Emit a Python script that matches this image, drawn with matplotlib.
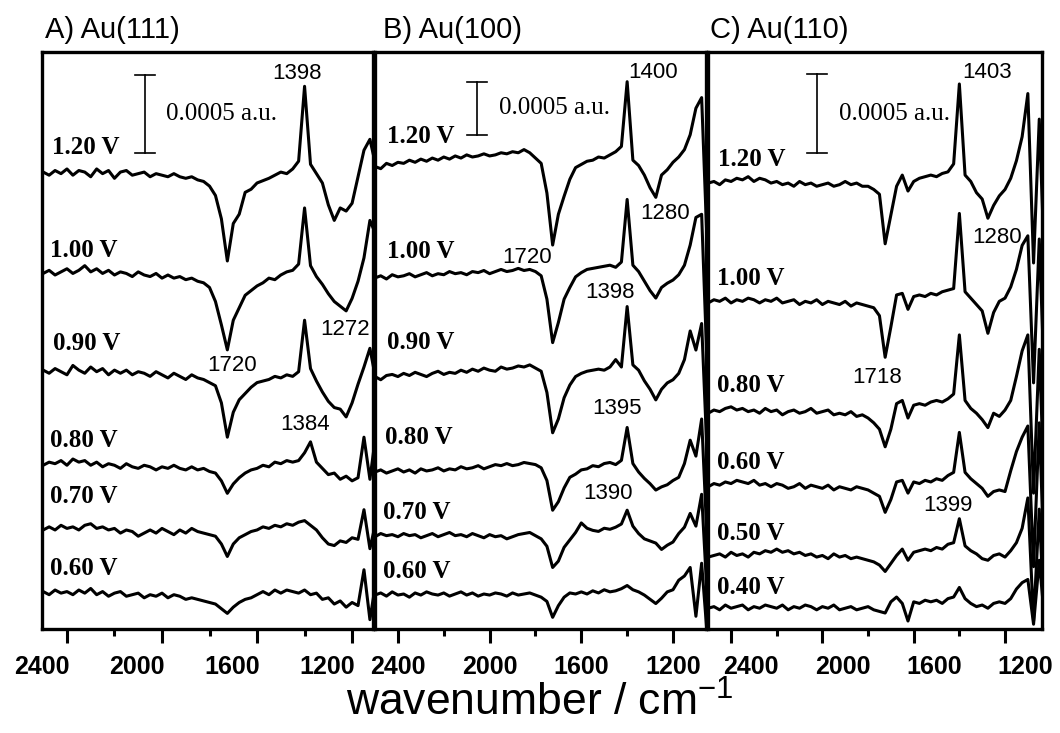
import numpy as np
import matplotlib.pyplot as plt
from matplotlib.transforms import ScaledTranslation

plt.rcParams['font.family'] = ['Liberation Sans', 'DejaVu Sans']
plt.rcParams['mathtext.default'] = 'regular'

# sampling grid of the spectra, cm-1 (2500 ... 1025)
wavenumber = np.arange(2500, 1024, -25)

# absorbance change, units of 1e-4 a.u.
# ---- A) Au(111)
a_potentials = ["1.20 V", "1.00 V", "0.90 V", "0.80 V", "0.70 V", "0.60 V"]
a_120 = [0.1, -0.1, 0.2, 0.0, 0.3, -0.1, 0.2, 0.1, -0.2, 0.3,
         0.0, 0.2, -0.3, 0.1, 0.2, -0.1, 0.0, 0.1, -0.2, 0.0,
         -0.1, -0.2, 0.0, -0.2, -0.3, -0.2, -0.4, -0.5, -0.8, -1.4,
         -2.9, -5.6, -3.2, -2.6, -1.2, -1.0, -0.6, -0.45, -0.3, -0.1,
         0.1, 0.0, 0.3, 0.8, 5.6, 0.6, 0.0, -0.6, -2.0, -3.0,
         -2.2, -2.4, -1.9, -0.2, 1.5, 2.2, 0.5, 0.0, 0.0, 0.0]
a_100 = [0.0, 0.2, -0.1, 0.1, 0.3, 0.0, 0.2, 0.5, 0.1, 0.3,
         0.0, 0.2, -0.1, 0.1, 0.0, -0.2, 0.1, -0.1, -0.2, 0.0,
         -0.3, -0.1, -0.3, -0.2, -0.4, -0.3, -0.5, -0.6, -0.9, -1.8,
         -3.3, -4.9, -3.0, -2.2, -1.4, -1.1, -0.8, -0.6, -0.3, -0.4,
         -0.1, 0.1, 0.2, 0.6, 4.2, 0.5, -0.2, -0.7, -1.3, -1.8,
         -2.1, -2.4, -1.6, -0.5, 1.0, 3.4, 2.5, 0.0, 0.0, 0.0]
a_090 = [0.1, -0.1, 0.2, 0.0, -0.2, 0.4, 0.1, -0.1, 0.3, 0.0,
         0.2, -0.2, 0.1, -0.1, 0.1, -0.2, 0.0, -0.1, -0.3, 0.0,
         -0.2, -0.4, -0.1, -0.3, -0.5, -0.2, -0.4, -0.5, -0.7, -0.9,
         -2.0, -4.2, -2.6, -1.8, -1.4, -1.0, -0.7, -0.6, -0.5, -0.3,
         -0.4, -0.2, -0.3, 0.0, 3.3, 0.2, -0.6, -1.3, -1.9, -2.3,
         -2.4, -2.9, -2.0, -0.8, 0.3, 1.5, -0.5, 0.0, 0.0, 0.0]
a_080 = [0.0, 0.2, 0.1, 0.3, 0.0, 0.4, 0.2, 0.3, 0.0, 0.2,
         -0.1, 0.1, 0.0, -0.2, 0.1, -0.1, -0.2, 0.0, -0.1, -0.3,
         -0.1, -0.2, 0.0, -0.2, -0.3, -0.1, -0.3, -0.2, -0.4, -0.5,
         -1.0, -1.8, -1.2, -0.8, -0.5, -0.3, -0.2, 0.0, -0.1, 0.2,
         0.1, 0.3, 0.2, 0.3, 0.8, 1.5, 0.2, -0.2, -0.6, -0.5,
         -0.9, -0.7, -1.0, -0.8, 1.8, -0.9, 2.0, 0.0, 0.0, 0.0]
a_070 = [0.0, 0.2, 0.0, 0.3, 0.1, 0.2, 0.0, 0.3, 0.4, 0.1,
         0.2, 0.0, 0.1, -0.2, 0.0, -0.1, -0.4, -0.2, 0.0, -0.2,
         0.1, -0.1, -0.3, 0.0, -0.2, 0.1, -0.1, -0.2, -0.3, -0.4,
         -0.9, -1.7, -0.9, -0.5, -0.3, -0.1, 0.0, 0.2, 0.1, 0.3,
         0.2, 0.4, 0.3, 0.5, 0.6, 0.3, 0.0, -0.5, -0.9, -1.0,
         -0.7, -0.8, -0.5, -0.6, 1.3, -1.2, 0.5, 0.0, 0.0, 0.0]
a_060 = [0.2, 0.0, 0.3, 0.1, 0.2, 0.0, 0.3, 0.1, 0.4, 0.0,
         0.2, -0.1, 0.1, 0.2, -0.1, 0.0, 0.1, -0.2, 0.0, -0.1,
         0.1, -0.2, 0.0, -0.1, -0.3, -0.2, -0.3, -0.4, -0.5, -0.6,
         -0.9, -1.2, -0.8, -0.5, -0.3, -0.2, 0.0, 0.2, 0.0, 0.3,
         0.1, 0.3, 0.2, 0.1, 0.3, 0.0, 0.1, -0.3, -0.2, -0.6,
         -0.4, -0.8, -0.5, -0.7, 1.6, -1.6, 0.8, 0.0, 0.0, 0.0]

# ---- B) Au(100)
b_potentials = ["1.20 V", "1.00 V", "0.90 V", "0.80 V", "0.70 V", "0.60 V"]
b_120 = [0.0, -0.2, 0.3, 0.1, 0.4, 0.3, 0.6, 0.4, 0.7, 0.5,
         0.8, 0.6, 0.9, 0.7, 1.0, 0.8, 1.1, 0.9, 1.0, 1.2,
         1.0, 1.1, 1.3, 1.2, 1.4, 1.3, 1.6, 1.3, 0.8, 0.3,
         -2.5, -7.4, -4.5, -2.8, -1.2, -0.1, 0.2, 0.5, 0.6, 0.9,
         0.8, 1.1, 1.4, 1.9, 8.0, 0.6, 0.1, -0.8, -2.0, -2.9,
         -0.8, -0.3, 0.4, 0.9, 1.6, 3.0, 5.5, 6.5, -8.0, 0.0]
b_100 = [0.0, 0.2, -0.1, 0.3, 0.1, 0.2, 0.4, 0.1, 0.3, 0.5,
         0.2, 0.4, 0.3, 0.6, 0.4, 0.5, 0.3, 0.6, 0.5, 0.7,
         0.4, 0.6, 0.8, 0.6, 0.7, 0.9, 0.7, 0.8, 0.6, 0.2,
         -2.0, -6.1, -4.2, -2.0, -0.9, 0.1, 0.5, 0.8, 0.9, 1.0,
         1.1, 1.2, 1.0, 1.5, 7.4, 1.2, 0.6, -0.3, -1.2, -1.9,
         -0.9, -0.5, -0.2, 0.3, 1.2, 3.1, 5.7, 6.0, -9.0, 0.0]
b_090 = [0.0, -0.3, 0.1, 0.2, 0.0, 0.3, 0.1, 0.4, 0.2, 0.0,
         0.3, 0.5, 0.2, 0.4, 0.3, 0.6, 0.4, 0.7, 0.5, 0.8,
         0.6, 0.5, 0.9, 0.7, 0.8, 1.0, 0.9, 1.1, 0.8, 0.5,
         -1.5, -5.3, -4.0, -2.0, -0.8, 0.0, 0.3, 0.5, 0.6, 0.7,
         0.6, 0.9, 1.6, 0.9, 6.6, 1.1, 0.6, -0.4, -1.2, -2.2,
         -1.2, -0.6, -0.3, 0.3, 1.6, 4.3, 2.5, 5.0, -8.0, 0.0]
b_080 = [0.0, 0.2, -0.1, 0.1, 0.3, 0.0, 0.2, -0.1, 0.3, 0.1,
         0.2, 0.4, 0.1, 0.3, 0.2, 0.5, 0.3, 0.4, 0.6, 0.3,
         0.5, 0.7, 0.6, 0.8, 0.6, 0.7, 0.9, 0.8, 0.7, 0.4,
         -0.8, -3.6, -2.8, -1.5, -0.5, -0.2, 0.2, 0.3, 0.6, 0.5,
         0.8, 0.9, 0.7, 1.1, 4.2, 0.8, 0.0, -0.6, -1.1, -1.7,
         -1.4, -1.2, -0.8, -0.5, 0.8, 3.0, 1.5, 5.0, -7.0, 0.0]
b_070 = [0.0, 0.3, 0.1, 0.2, 0.0, 0.3, 0.1, 0.2, -0.1, 0.1,
         0.3, 0.0, 0.2, 0.4, 0.1, 0.2, 0.0, 0.3, 0.1, -0.1,
         0.2, 0.0, 0.1, -0.2, 0.0, 0.2, 0.3, 0.4, 0.1, -0.2,
         -0.9, -2.9, -2.3, -1.0, -0.3, 0.4, 1.3, 0.8, 0.6, 0.5,
         0.8, 0.7, 0.9, 1.2, 2.5, 1.0, 0.3, -0.2, -0.4, -0.6,
         -1.2, -0.8, -0.5, 0.3, 0.9, 2.2, 1.0, 4.0, -6.0, 0.0]
b_060 = [0.0, 0.2, -0.1, 0.3, 0.0, 0.1, -0.2, 0.2, 0.0, 0.3,
         0.1, 0.0, 0.2, -0.1, 0.1, 0.3, 0.0, 0.2, -0.1, 0.1,
         0.0, 0.2, 0.1, -0.1, 0.2, 0.0, 0.1, 0.2, 0.0, -0.2,
         -0.6, -2.1, -1.0, -0.2, 0.2, 0.1, 0.3, 0.1, 0.4, 0.2,
         0.5, 0.3, 0.4, 0.6, 0.9, 0.5, 0.3, 0.0, -0.4, -0.8,
         -0.3, 0.3, 0.5, 1.4, 1.8, 2.6, -2.0, 3.0, -4.0, 0.0]

# ---- C) Au(110)
c_potentials = ["1.20 V", "1.00 V", "0.80 V", "0.60 V", "0.50 V", "0.40 V"]
c_120 = [0.0, 0.1, -0.1, 0.2, 0.1, 0.3, 0.2, 0.4, 0.1, 0.3,
         0.2, 0.0, 0.1, -0.1, 0.0, -0.2, 0.1, -0.1, 0.0, -0.2,
         -0.1, 0.0, -0.2, -0.1, 0.1, -0.1, 0.0, -0.2, -0.2, -0.4,
         -0.7, -3.8, -2.0, -0.2, 0.5, -0.5, 0.1, 0.3, 0.4, 0.5,
         0.4, 0.6, 0.7, 1.2, 6.2, 0.5, 0.1, -0.6, -1.0, -2.2,
         -1.4, -0.8, -0.4, 0.3, 1.4, 2.9, 5.6, -5.0, 4.0, -6.0]
c_100 = [0.0, 0.2, 0.1, 0.3, 0.0, 0.2, 0.1, 0.3, 0.2, 0.0,
         0.2, 0.1, 0.3, 0.0, 0.1, 0.2, -0.1, 0.1, 0.0, 0.2,
         -0.1, 0.1, 0.0, -0.1, 0.1, -0.2, 0.0, -0.1, -0.2, -0.3,
         -0.8, -3.4, -1.5, 0.5, 0.6, -0.4, 0.4, 0.5, 0.4, 0.6,
         0.5, 0.7, 0.8, 0.9, 5.6, 0.7, 0.3, -0.1, -0.5, -1.9,
         -0.6, 0.1, 0.3, 1.0, 2.1, 3.6, 4.2, -5.0, 4.0, -6.0]
c_080 = [0.0, 0.2, 0.1, 0.3, 0.4, 0.2, 0.3, 0.1, 0.2, 0.0,
         0.3, 0.1, 0.2, -0.1, 0.1, 0.2, 0.0, 0.1, 0.3, 0.0,
         0.1, 0.2, -0.1, 0.0, -0.1, 0.1, -0.2, -0.1, -0.3, -0.6,
         -1.0, -2.1, -1.0, 0.6, 0.8, -0.3, 0.5, 0.6, 0.5, 0.7,
         0.8, 0.7, 0.9, 1.2, 4.9, 0.8, 0.3, 0.0, -0.4, -0.9,
         0.0, -0.2, 0.2, 0.8, 2.3, 3.9, 4.9, -5.0, 4.0, -6.0]
c_060 = [0.0, 0.2, 0.1, 0.3, 0.2, 0.4, 0.3, 0.2, 0.4, 0.1,
         0.2, 0.0, 0.2, 0.1, -0.1, 0.0, 0.2, -0.1, 0.1, 0.0,
         -0.1, 0.1, -0.2, 0.0, -0.1, -0.2, 0.0, -0.1, -0.2, -0.4,
         -0.6, -1.6, -0.8, 0.3, 0.4, -0.4, 0.3, 0.2, 0.4, 0.3,
         0.5, 0.4, 0.7, 0.9, 3.4, 0.9, 0.5, 0.2, -0.1, -0.6,
         -0.3, -0.2, -0.3, 1.0, 2.2, 3.1, 3.8, -5.0, 4.0, -6.0]
c_050 = [0.0, 0.1, 0.2, 0.0, 0.3, 0.1, 0.2, 0.0, 0.3, 0.2,
         0.4, 0.3, 0.5, 0.3, 0.4, 0.2, 0.3, 0.1, 0.2, 0.0,
         0.1, -0.1, 0.2, 0.0, 0.1, -0.1, 0.0, -0.1, -0.2, -0.3,
         -0.5, -0.9, -0.4, 0.1, 0.5, -0.2, 0.3, 0.4, 0.5, 0.4,
         0.6, 0.5, 0.8, 0.9, 2.4, 0.7, 0.4, 0.2, -0.1, -0.2,
         0.1, 0.2, 0.0, 0.4, 0.9, 1.8, 3.7, -4.0, 3.0, -5.0]
c_040 = [0.0, 0.1, -0.1, 0.2, 0.0, 0.1, 0.2, -0.1, 0.1, 0.0,
         0.2, 0.1, 0.0, 0.2, -0.1, 0.1, 0.0, 0.2, 0.1, -0.1,
         0.1, 0.0, 0.2, -0.1, 0.0, 0.1, -0.1, 0.0, 0.1, -0.1,
         -0.2, -0.3, 0.4, 0.7, 0.3, -0.8, 0.4, 0.3, 0.5, 0.4,
         0.5, 0.3, 0.6, 0.7, 1.3, 0.6, 0.3, 0.1, 0.2, 0.0,
         0.3, 0.4, 0.3, 0.6, 1.2, 1.6, 1.8, -1.0, 3.0, -1.0]

# band labels (position in cm-1, value in 1e-4 a.u. on the panel scale)
a_notes = [("1398", 1432, 35.6), ("1720", 1705, 16.9), ("1272", 1229, 19.2), ("1384", 1398, 13.1)]
b_notes = [("1400", 1287, 52.5), ("1280", 1235, 39.2), ("1720", 1837, 35.0),
           ("1398", 1475, 31.7), ("1395", 1444, 20.8), ("1390", 1484, 12.8)]
c_notes = [("1403", 1279, 34.8), ("1280", 1235, 24.5), ("1718", 1761, 15.75), ("1399", 1450, 7.75)]

panels = [
    dict(title="A) Au(111)", title_x=45, rect=[42, 331],
         spectra=[a_120, a_100, a_090, a_080, a_070, a_060], labels=a_potentials,
         offsets=[29.2, 22.8, 16.5, 10.5, 6.35, 2.2],
         label_pos=[(2463, 30.9), (2472, 24.3), (2459, 18.3), (2472, 12.1), (2472, 8.5), (2472, 3.9)],
         xlim=(2505, 1112), ylim=(0, 37.0), bar=(2072, 30.5, 42), notes=a_notes, shift=-25),
    dict(title="B) Au(100)", title_x=383, rect=[375, 331],
         spectra=[b_120, b_100, b_090, b_080, b_070, b_060], labels=b_potentials,
         offsets=[43.6, 33.1, 23.8, 14.8, 8.7, 3.2],
         label_pos=[(2448, 46.4), (2448, 35.6), (2448, 27.0), (2457, 18.1), (2465, 11.0), (2465, 5.4)],
         xlim=(2500, 1056), ylim=(0, 54.4), bar=(2055, 46.6, 44), notes=b_notes, shift=0),
    dict(title="C) Au(110)", title_x=710, rect=[708, 334],
         spectra=[c_120, c_100, c_080, c_060, c_050, c_040], labels=c_potentials,
         offsets=[27.9, 20.4, 13.5, 8.9, 4.5, 1.3],
         label_pos=[(2457, 29.4), (2461, 21.9), (2461, 15.25), (2461, 10.4), (2461, 6.0), (2461, 2.6)],
         xlim=(2501, 1038), ylim=(0, 36.1), bar=(2023, 29.75, 44), notes=c_notes, shift=20),
]

W, H = 1060, 733
fig = plt.figure(figsize=(W / 100, H / 100), dpi=100)

for p in panels:
    left, width = p["rect"]
    ax = fig.add_axes([left / W, (H - 629) / H, width / W, 577 / H])

    for spec, off in zip(p["spectra"], p["offsets"]):
        ax.plot(wavenumber, np.asarray(spec) + off, color="black", lw=2.2)

    for text, (x, y) in zip(p["labels"], p["label_pos"]):
        ax.text(x, y, text, ha="left", va="center", fontsize=18,
                fontweight="bold", family="Liberation Serif")

    for text, x, y in p["notes"]:
        ax.text(x, y, text, ha="center", va="center", fontsize=16)

    # 0.0005 a.u. scale bar (= 5 units)
    bx, by, cap = p["bar"]
    ax.plot([bx, bx], [by, by + 5], color="black", lw=1.2)
    ax.plot([bx - cap, bx + cap], [by, by], color="black", lw=1.2)
    ax.plot([bx - cap, bx + cap], [by + 5, by + 5], color="black", lw=1.2)
    ax.text(bx - 0.55 * cap, by + 2.5, "0.0005 a.u.", ha="left", va="center",
            fontsize=18, family="Liberation Serif",
            transform=ax.transData + ScaledTranslation(16 / 100, 0, fig.dpi_scale_trans))

    ax.set_xlim(*p["xlim"])
    ax.set_ylim(*p["ylim"])
    ax.set_yticks([])
    ax.set_xticks([2400, 2000, 1600, 1200])
    ax.set_xticks([2200, 1800, 1400], minor=True)
    ax.set_xticklabels(["2400", "2000", "1600", "1200"])
    ax.tick_params(axis="x", which="major", direction="out", length=10, width=2.2,
                   pad=9, labelsize=18)
    ax.tick_params(axis="x", which="minor", direction="out", length=5, width=2.2)
    for lab in ax.get_xticklabels():
        lab.set_fontweight("bold")
        lab.set_transform(lab.get_transform()
                          + ScaledTranslation(p["shift"] / 100, 0, fig.dpi_scale_trans))
    for s in ax.spines.values():
        s.set_linewidth(2.4)

    fig.text(p["title_x"] / W, 1 - 30 / H, p["title"], ha="left", va="center", fontsize=21)

fig.text(540 / W, 1 - 703 / H, "wavenumber / cm$^{-1}$", ha="center", va="center", fontsize=32)

fig.savefig("out.png", dpi=100)
